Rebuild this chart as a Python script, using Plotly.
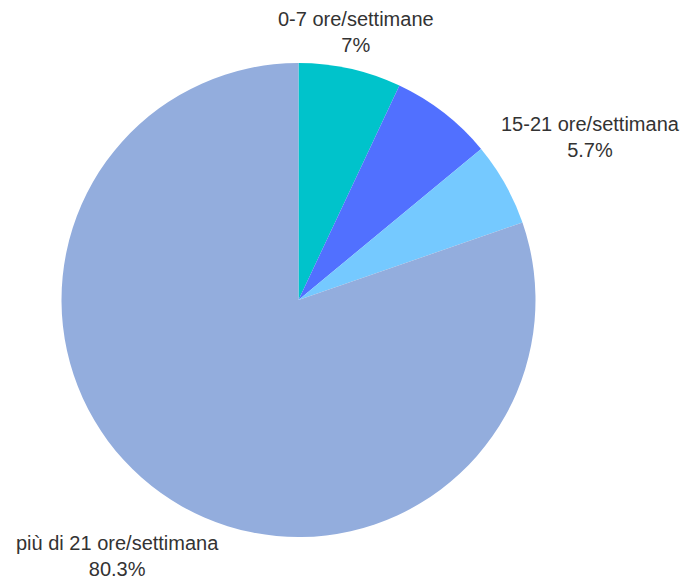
import plotly.graph_objects as go

labels = ["0-7 ore/settimane", "8-14 ore/settimana", "15-21 ore/settimana", "più di 21 ore/settimana"]
values = [7.0, 7.0, 5.7, 80.3]
show_label = [True, False, True, True]
colors = ["#00C3CB", "#5170FF", "#75C9FF", "#93ADDD"]

W, H = 684, 581
cx, cy, r = 298.5, 300, 237

fig = go.Figure(go.Pie(
    labels=labels,
    values=values,
    sort=False,
    direction="clockwise",
    rotation=0,
    marker=dict(colors=colors, line=dict(width=0)),
    textinfo="none",
    hoverinfo="label+percent",
    showlegend=False,
    domain=dict(x=[(cx - r) / W, (cx + r) / W], y=[1 - (cy + r) / H, 1 - (cy - r) / H]),
))

# label anchor positions (pixels) for shown labels
label_pos = {0: (356, 32), 2: (590, 137), 3: (117, 556)}
for i, (lab, v) in enumerate(zip(labels, values)):
    if not show_label[i]:
        continue
    px, py = label_pos[i]
    fig.add_annotation(
        x=px / W, y=1 - py / H, xref="paper", yref="paper",
        text=f"{lab}<br>{v:g}%", showarrow=False,
        xanchor="center", yanchor="middle", align="center",
        font=dict(family="Liberation Sans, Arial, sans-serif", size=20, color="#333333"),
    )

fig.update_layout(
    width=W, height=H,
    margin=dict(l=0, r=0, t=0, b=0),
    paper_bgcolor="white",
    plot_bgcolor="white",
)

fig.write_html("out.html")
